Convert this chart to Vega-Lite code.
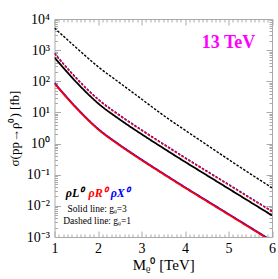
{
  "$schema": "https://vega.github.io/schema/vega-lite/v6.json",
  "autosize": "none",
  "width": 217.5,
  "height": 218,
  "padding": {"left": 54.5, "top": 19, "right": 6, "bottom": 42},
  "config": {
    "view": {"stroke": "#aaaaaa", "strokeWidth": 1},
    "font": "Liberation Serif",
    "axis": {"domain": false, "grid": false, "tickColor": "#aaaaaa", "labelFont": "Liberation Serif", "titleFont": "Liberation Serif", "labelColor": "#000", "titleColor": "#000", "titleFontWeight": "normal", "labelFontSize": 14, "titleFontSize": 14}
  },
  "datasets": {
    "curves": [
      {"series": "ρX", "g": "1", "M": 1, "sigma": 797}, {"series": "ρX", "g": "1", "M": 1.5, "sigma": 129}, {"series": "ρX", "g": "1", "M": 2, "sigma": 26.9}, {"series": "ρX", "g": "1", "M": 2.5, "sigma": 8.15}, {"series": "ρX", "g": "1", "M": 3, "sigma": 2.77}, {"series": "ρX", "g": "1", "M": 3.5, "sigma": 0.982}, {"series": "ρX", "g": "1", "M": 4, "sigma": 0.356}, {"series": "ρX", "g": "1", "M": 4.5, "sigma": 0.132}, {"series": "ρX", "g": "1", "M": 5, "sigma": 0.0492}, {"series": "ρX", "g": "1", "M": 5.5, "sigma": 0.0182}, {"series": "ρX", "g": "1", "M": 6, "sigma": 0.00678},
      {"series": "ρX", "g": "3", "M": 1, "sigma": 88.5}, {"series": "ρX", "g": "3", "M": 1.5, "sigma": 14.4}, {"series": "ρX", "g": "3", "M": 2, "sigma": 3.0}, {"series": "ρX", "g": "3", "M": 2.5, "sigma": 0.906}, {"series": "ρX", "g": "3", "M": 3, "sigma": 0.307}, {"series": "ρX", "g": "3", "M": 3.5, "sigma": 0.109}, {"series": "ρX", "g": "3", "M": 4, "sigma": 0.0395}, {"series": "ρX", "g": "3", "M": 4.5, "sigma": 0.0147}, {"series": "ρX", "g": "3", "M": 5, "sigma": 0.00546}, {"series": "ρX", "g": "3", "M": 5.5, "sigma": 0.00203}, {"series": "ρX", "g": "3", "M": 6, "sigma": 0.000753},
      {"series": "ρR", "g": "1", "M": 1, "sigma": 766}, {"series": "ρR", "g": "1", "M": 1.5, "sigma": 124}, {"series": "ρR", "g": "1", "M": 2, "sigma": 25.9}, {"series": "ρR", "g": "1", "M": 2.5, "sigma": 7.84}, {"series": "ρR", "g": "1", "M": 3, "sigma": 2.66}, {"series": "ρR", "g": "1", "M": 3.5, "sigma": 0.944}, {"series": "ρR", "g": "1", "M": 4, "sigma": 0.342}, {"series": "ρR", "g": "1", "M": 4.5, "sigma": 0.127}, {"series": "ρR", "g": "1", "M": 5, "sigma": 0.0473}, {"series": "ρR", "g": "1", "M": 5.5, "sigma": 0.0175}, {"series": "ρR", "g": "1", "M": 6, "sigma": 0.00652},
      {"series": "ρR", "g": "3", "M": 1, "sigma": 85.1}, {"series": "ρR", "g": "3", "M": 1.5, "sigma": 13.8}, {"series": "ρR", "g": "3", "M": 2, "sigma": 2.88}, {"series": "ρR", "g": "3", "M": 2.5, "sigma": 0.871}, {"series": "ρR", "g": "3", "M": 3, "sigma": 0.295}, {"series": "ρR", "g": "3", "M": 3.5, "sigma": 0.105}, {"series": "ρR", "g": "3", "M": 4, "sigma": 0.038}, {"series": "ρR", "g": "3", "M": 4.5, "sigma": 0.0141}, {"series": "ρR", "g": "3", "M": 5, "sigma": 0.00525}, {"series": "ρR", "g": "3", "M": 5.5, "sigma": 0.00195}, {"series": "ρR", "g": "3", "M": 6, "sigma": 0.000724},
      {"series": "ρL", "g": "1", "M": 1, "sigma": 5129}, {"series": "ρL", "g": "1", "M": 1.5, "sigma": 1202}, {"series": "ρL", "g": "1", "M": 2, "sigma": 295}, {"series": "ρL", "g": "1", "M": 2.5, "sigma": 89.1}, {"series": "ρL", "g": "1", "M": 3, "sigma": 26.9}, {"series": "ρL", "g": "1", "M": 3.5, "sigma": 8.13}, {"series": "ρL", "g": "1", "M": 4, "sigma": 2.69}, {"series": "ρL", "g": "1", "M": 4.5, "sigma": 0.912}, {"series": "ρL", "g": "1", "M": 5, "sigma": 0.309}, {"series": "ρL", "g": "1", "M": 5.5, "sigma": 0.107}, {"series": "ρL", "g": "1", "M": 6, "sigma": 0.038},
      {"series": "ρL", "g": "3", "M": 1, "sigma": 581}, {"series": "ρL", "g": "3", "M": 1.5, "sigma": 94.2}, {"series": "ρL", "g": "3", "M": 2, "sigma": 19.7}, {"series": "ρL", "g": "3", "M": 2.5, "sigma": 5.94}, {"series": "ρL", "g": "3", "M": 3, "sigma": 2.01}, {"series": "ρL", "g": "3", "M": 3.5, "sigma": 0.714}, {"series": "ρL", "g": "3", "M": 4, "sigma": 0.259}, {"series": "ρL", "g": "3", "M": 4.5, "sigma": 0.0964}, {"series": "ρL", "g": "3", "M": 5, "sigma": 0.0358}, {"series": "ρL", "g": "3", "M": 5.5, "sigma": 0.0133}, {"series": "ρL", "g": "3", "M": 6, "sigma": 0.00494}
    ],
    "rholabels": [
      {"series": "ρL", "label": "ρL⁰", "M": 1.46, "sigma": 0.025},
      {"series": "ρR", "label": "ρR⁰", "M": 1.99, "sigma": 0.025},
      {"series": "ρX", "label": "ρX⁰", "M": 2.5, "sigma": 0.025}
    ],
    "notes": [
      {"label": "Solid line: gᵨ=3", "M": 1.98, "sigma": 0.0078},
      {"label": "Dashed line: gᵨ=1", "M": 1.98, "sigma": 0.0032}
    ],
    "energy": [{"label": "13 TeV", "M": 5.0, "sigma": 1700}]
  },
  "resolve": {"axis": {"x": "independent", "y": "independent"}},
  "layer": [
    {
      "data": {"name": "curves"},
      "mark": {"type": "line", "clip": true, "interpolate": "monotone"},
      "encoding": {
        "x": {"field": "M", "type": "quantitative", "scale": {"domain": [1, 6], "nice": false, "zero": false},
              "axis": {"orient": "bottom", "values": [1, 2, 3, 4, 5, 6], "tickSize": -6, "labelPadding": 10, "title": "Mᵨ⁰ [TeV]", "titlePadding": 2, "titleFontSize": 15, "labelFlush": false}},
        "y": {"field": "sigma", "type": "quantitative", "scale": {"type": "log", "domain": [0.001, 10000], "nice": false},
              "axis": {"orient": "left", "values": [0.001, 0.01, 0.1, 1, 10, 100, 1000, 10000], "tickSize": -6, "labelPadding": 11, "title": "σ(pp→ρ⁰) [fb]", "titlePadding": 5, "titleFontSize": 13, "labelFlush": false,
                       "labelExpr": "datum.value > 5000 ? '10⁴' : datum.value > 500 ? '10³' : datum.value > 50 ? '10²' : datum.value > 5 ? '10¹' : datum.value > 0.5 ? '10⁰' : datum.value > 0.05 ? '10⁻¹' : datum.value > 0.005 ? '10⁻²' : '10⁻³'"}},
        "color": {"field": "series", "type": "nominal", "scale": {"domain": ["ρL", "ρR", "ρX"], "range": ["#000000", "#ff0000", "#0000ff"]}, "legend": null},
        "strokeDash": {"field": "g", "type": "nominal", "scale": {"domain": ["3", "1"], "range": [[1, 0], [2.5, 1.5]]}, "legend": null},
        "strokeWidth": {"field": "g", "type": "nominal", "scale": {"domain": ["3", "1"], "range": [1.8, 1.4]}, "legend": null}
      }
    },
    {
      "data": {"name": "energy"},
      "mark": {"type": "point", "opacity": 0},
      "encoding": {
        "x": {"field": "M", "type": "quantitative", "axis": {"orient": "bottom", "values": [1.1,1.2,1.3,1.4,1.5,1.6,1.7,1.8,1.9,2.1,2.2,2.3,2.4,2.5,2.6,2.7,2.8,2.9,3.1,3.2,3.3,3.4,3.5,3.6,3.7,3.8,3.9,4.1,4.2,4.3,4.4,4.5,4.6,4.7,4.8,4.9,5.1,5.2,5.3,5.4,5.5,5.6,5.7,5.8,5.9], "tickSize": -3, "labels": false, "title": null}},
        "y": {"field": "sigma", "type": "quantitative", "axis": {"orient": "left", "values": [0.002,0.003,0.004,0.005,0.006,0.007,0.008,0.009,0.02,0.03,0.04,0.05,0.06,0.07,0.08,0.09,0.2,0.3,0.4,0.5,0.6,0.7,0.8,0.9,2,3,4,5,6,7,8,9,20,30,40,50,60,70,80,90,200,300,400,500,600,700,800,900,2000,3000,4000,5000,6000,7000,8000,9000], "tickSize": -3, "labels": false, "title": null}}
      }
    },
    {
      "data": {"name": "energy"},
      "mark": {"type": "point", "opacity": 0},
      "encoding": {
        "x": {"field": "M", "type": "quantitative", "axis": {"orient": "top", "values": [1, 2, 3, 4, 5, 6], "tickSize": -6, "labels": false, "title": null}},
        "y": {"field": "sigma", "type": "quantitative", "axis": {"orient": "right", "values": [0.001, 0.01, 0.1, 1, 10, 100, 1000, 10000], "tickSize": -6, "labels": false, "title": null}}
      }
    },
    {
      "data": {"name": "energy"},
      "mark": {"type": "point", "opacity": 0},
      "encoding": {
        "x": {"field": "M", "type": "quantitative", "axis": {"orient": "top", "values": [1.1,1.2,1.3,1.4,1.5,1.6,1.7,1.8,1.9,2.1,2.2,2.3,2.4,2.5,2.6,2.7,2.8,2.9,3.1,3.2,3.3,3.4,3.5,3.6,3.7,3.8,3.9,4.1,4.2,4.3,4.4,4.5,4.6,4.7,4.8,4.9,5.1,5.2,5.3,5.4,5.5,5.6,5.7,5.8,5.9], "tickSize": -3, "labels": false, "title": null}},
        "y": {"field": "sigma", "type": "quantitative", "axis": {"orient": "right", "values": [0.002,0.003,0.004,0.005,0.006,0.007,0.008,0.009,0.02,0.03,0.04,0.05,0.06,0.07,0.08,0.09,0.2,0.3,0.4,0.5,0.6,0.7,0.8,0.9,2,3,4,5,6,7,8,9,20,30,40,50,60,70,80,90,200,300,400,500,600,700,800,900,2000,3000,4000,5000,6000,7000,8000,9000], "tickSize": -3, "labels": false, "title": null}}
      }
    },
    {
      "data": {"name": "energy"},
      "mark": {"type": "text", "color": "#ff00ff", "fontSize": 18, "fontWeight": "bold", "font": "Liberation Serif"},
      "encoding": {
        "x": {"field": "M", "type": "quantitative", "axis": null},
        "y": {"field": "sigma", "type": "quantitative", "axis": null},
        "text": {"field": "label"}
      }
    },
    {
      "data": {"name": "rholabels"},
      "mark": {"type": "text", "fontSize": 12, "fontWeight": "bold", "fontStyle": "italic", "font": "Liberation Serif"},
      "encoding": {
        "x": {"field": "M", "type": "quantitative", "axis": null},
        "y": {"field": "sigma", "type": "quantitative", "axis": null},
        "text": {"field": "label"},
        "color": {"field": "series", "type": "nominal", "legend": null}
      }
    },
    {
      "data": {"name": "notes"},
      "mark": {"type": "text", "fontSize": 9.5, "font": "Liberation Serif", "color": "#000"},
      "encoding": {
        "x": {"field": "M", "type": "quantitative", "axis": null},
        "y": {"field": "sigma", "type": "quantitative", "axis": null},
        "text": {"field": "label"}
      }
    }
  ]
}
